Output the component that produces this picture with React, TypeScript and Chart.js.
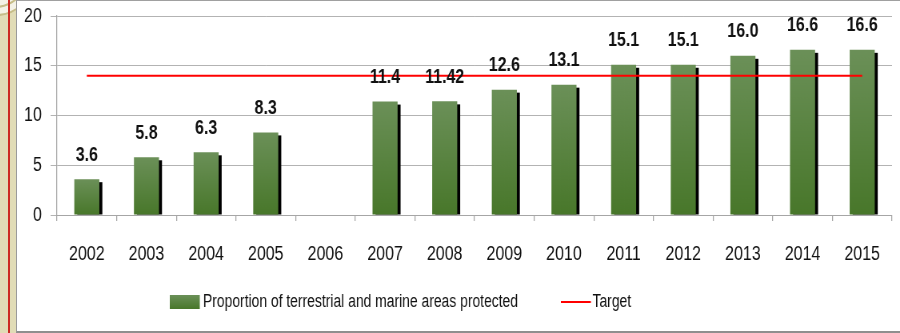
import React, { useEffect, useRef } from 'react';
import { Chart, registerables } from 'chart.js';

Chart.register(...registerables);

const years = ['2002', '2003', '2004', '2005', '2006', '2007', '2008', '2009', '2010', '2011', '2012', '2013', '2014', '2015'];
const protectedShare: (number | null)[] = [3.6, 5.8, 6.3, 8.3, null, 11.4, 11.42, 12.6, 13.1, 15.1, 15.1, 16.0, 16.6, 16.6];
const valueLabels = ['3.6', '5.8', '6.3', '8.3', '', '11.4', '11.42', '12.6', '13.1', '15.1', '15.1', '16.0', '16.6', '16.6'];
const target = [14, 14, 14, 14, 14, 14, 14, 14, 14, 14, 14, 14, 14, 14];
const barSeriesName = 'Proportion of terrestrial and marine areas protected';
const lineSeriesName = 'Target';

// The canvas is drawn wider than shown and squeezed horizontally by CSS,
// which gives a narrow (Calibri-like) look to every text.
const SX = 0.8;
const CSS_W = 883;
const CSS_H = 330;
const RAW_W = Math.round(CSS_W / SX);
const LEGEND_SX = 0.965;

const FONT = '"Liberation Sans", Arial, sans-serif';
const GREEN_TOP = '#6b9058';
const GREEN_BOTTOM = '#48772a';

const decor = {
  id: 'decor',
  beforeDatasetsDraw(chart: any) {
    const meta = chart.getDatasetMeta(1);
    const ctx = chart.ctx;
    const area = chart.chartArea;
    ctx.save();
    ctx.beginPath();
    ctx.rect(area.left, area.top - 5, area.right - area.left + 10, area.bottom - area.top + 5);
    ctx.clip();
    ctx.fillStyle = '#000000';
    meta.data.forEach((el: any, i: number) => {
      if (protectedShare[i] == null) return;
      const p = el.getProps(['x', 'y', 'base', 'width'], true);
      ctx.fillRect(p.x - p.width / 2 + 3 / SX, p.y + 3, p.width, p.base - p.y - 3);
    });
    ctx.restore();
  },
  afterDatasetsDraw(chart: any) {
    const meta = chart.getDatasetMeta(1);
    const ctx = chart.ctx;
    const area = chart.chartArea;
    ctx.save();
    ctx.fillStyle = '#111111';
    ctx.font = 'bold 20px ' + FONT;
    ctx.textAlign = 'center';
    ctx.textBaseline = 'middle';
    meta.data.forEach((el: any, i: number) => {
      if (protectedShare[i] == null) return;
      const p = el.getProps(['x', 'y'], true);
      ctx.fillText(valueLabels[i], p.x, p.y - 24);
    });

    // legend
    const ly = area.bottom + 87;
    const bx = area.left + 141;
    const g = ctx.createLinearGradient(0, ly - 7, 0, ly + 7);
    g.addColorStop(0, GREEN_TOP);
    g.addColorStop(1, GREEN_BOTTOM);
    ctx.fillStyle = g;
    ctx.fillRect(bx, ly - 7, 37.5, 14);
    ctx.fillStyle = '#111111';
    ctx.font = '18px ' + FONT;
    ctx.textAlign = 'left';
    ctx.save();
    ctx.translate(bx + 41.5, ly);
    ctx.scale(LEGEND_SX, 1);
    ctx.fillText(barSeriesName, 0, 0);
    ctx.restore();
    const lx = area.left + 630;
    ctx.strokeStyle = '#ff0000';
    ctx.lineWidth = 2;
    ctx.beginPath();
    ctx.moveTo(lx, ly);
    ctx.lineTo(lx + 37.5, ly);
    ctx.stroke();
    ctx.save();
    ctx.translate(lx + 39.5, ly);
    ctx.scale(LEGEND_SX, 1);
    ctx.fillText(lineSeriesName, 0, 0);
    ctx.restore();
    ctx.restore();
  },
};

function barFill(c: any) {
  const chart = c.chart;
  const ys = chart.scales && chart.scales.y;
  if (!ys || c.type !== 'data' || c.raw == null) return GREEN_BOTTOM;
  const top = ys.getPixelForValue(c.raw);
  const bottom = ys.getPixelForValue(0);
  if (!isFinite(top) || !isFinite(bottom) || bottom - top < 1) return GREEN_BOTTOM;
  const g = chart.ctx.createLinearGradient(0, top, 0, bottom);
  g.addColorStop(0, GREEN_TOP);
  g.addColorStop(1, GREEN_BOTTOM);
  return g;
}

export default function App() {
  const ref = useRef<HTMLCanvasElement | null>(null);

  useEffect(() => {
    document.body.style.margin = '0';
    if (!ref.current) return;
    const chart = new Chart(ref.current, {
      type: 'bar',
      data: {
        labels: years,
        datasets: [
          {
            type: 'line',
            label: lineSeriesName,
            data: target,
            borderColor: '#ff0000',
            backgroundColor: '#ff0000',
            borderWidth: 2,
            pointRadius: 0,
            order: 0,
          } as any,
          {
            type: 'bar',
            label: barSeriesName,
            data: protectedShare,
            backgroundColor: barFill,
            borderWidth: 0,
            categoryPercentage: 1,
            barPercentage: 0.42,
            order: 1,
          } as any,
        ],
      },
      options: {
        responsive: false,
        animation: false,
        devicePixelRatio: 1,
        layout: { padding: { top: 15, right: 10, left: 0, bottom: 0 } },
        plugins: {
          legend: { display: false },
          tooltip: { enabled: false },
          title: { display: false },
        },
        scales: {
          x: {
            type: 'category',
            offset: true,
            grid: {
              display: true,
              drawOnChartArea: false,
              drawTicks: true,
              tickLength: 6,
              lineWidth: 1.25,
              color: '#a6a6a6',
              offset: true,
            },
            border: { display: true, color: '#a6a6a6', width: 1 },
            ticks: {
              color: '#111111',
              font: { family: FONT, size: 20 },
              padding: 21,
              maxRotation: 0,
              autoSkip: false,
            },
            afterFit: (s: any) => {
              s.height = 116;
              s.paddingLeft = 0;
              s.paddingRight = 0;
            },
          },
          y: {
            min: 0,
            max: 20,
            ticks: {
              stepSize: 5,
              color: '#111111',
              font: { family: FONT, size: 20 },
              padding: 11,
            },
            grid: {
              color: '#b3b3b3',
              lineWidth: 1,
              tickLength: 8,
              drawTicks: true,
            },
            border: { display: true, color: '#a6a6a6', width: 1.25 },
            afterFit: (s: any) => {
              s.width = 50;
              s.paddingTop = 0;
              s.paddingBottom = 0;
            },
          },
        },
      },
      plugins: [decor],
    });
    return () => chart.destroy();
  }, []);

  return (
    <div style={{ position: 'relative', width: 900, height: 333, background: '#e1dcb6', overflow: 'hidden' }}>
      <div
        style={{
          position: 'absolute',
          left: -40,
          top: -60,
          width: 70,
          height: 72,
          borderRadius: '50%',
          border: '2px solid #c6bd88',
          background: '#f4f2e6',
        }}
      />
      <div
        style={{
          position: 'absolute',
          left: -40,
          top: -66,
          width: 66,
          height: 70,
          borderRadius: '50%',
          border: '2px solid #c6bd88',
        }}
      />
      <div style={{ position: 'absolute', left: 8, top: 0, width: 2, height: 333, background: '#cc2a22' }} />
      <div
        style={{
          position: 'absolute',
          left: 16,
          top: 0,
          width: 884,
          height: 333,
          boxSizing: 'border-box',
          background: '#ffffff',
          borderLeft: '1px solid #9a9a9a',
          borderTop: '1px solid #a0a0a0',
          borderBottom: '2px solid #8e8e8e',
        }}
      >
        <canvas
          ref={ref}
          width={RAW_W}
          height={CSS_H}
          style={{ display: 'block', width: CSS_W, height: CSS_H }}
        />
      </div>
    </div>
  );
}
